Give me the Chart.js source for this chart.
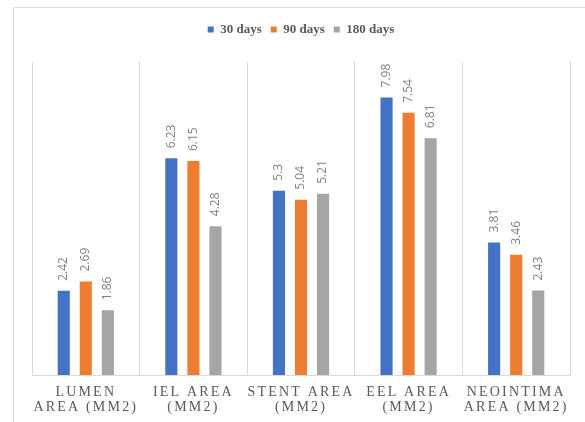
<!DOCTYPE html>
<html>
<head>
<meta charset="utf-8">
<script src="https://cdn.jsdelivr.net/npm/chart.js@4.4.1/dist/chart.umd.min.js"></script>
<style>
  html, body { margin: 0; padding: 0; background: #fff; }
  canvas { display: block; }
</style>
</head>
<body>
<canvas id="areaChart" width="585" height="422"></canvas>
<script>
// categories (two lines each)
const categories = [
    ['LUMEN', 'AREA (MM2)'],
    ['IEL AREA', '(MM2)'],
    ['STENT AREA', '(MM2)'],
    ['EEL AREA', '(MM2)'],
    ['NEOINTIMA', 'AREA (MM2)']
];
const days30 = [2.42, 6.23, 5.3, 7.98, 3.81];
const days90 = [2.69, 6.15, 5.04, 7.54, 3.46];
const days180 = [1.86, 4.28, 5.21, 6.81, 2.43];
const seriesNames = ['30 days', '90 days', '180 days'];
const seriesColors = ['#4472C4', '#ED7D31', '#A5A5A5'];

// outer frame + white background
const framePlugin = {
    id: 'frame',
    beforeDraw(chart) {
        const ctx = chart.ctx;
        ctx.save();
        ctx.fillStyle = '#fff';
        ctx.fillRect(0, 0, chart.width, chart.height);
        ctx.strokeStyle = '#d9d9d9';
        ctx.lineWidth = 1;
        ctx.beginPath();
        ctx.moveTo(13.5, chart.height);
        ctx.lineTo(13.5, 7.5);
        ctx.lineTo(chart.width, 7.5);
        ctx.stroke();
        ctx.restore();
    }
};

// make room between legend and plot
const legendGap = {
    id: 'legendGap',
    beforeInit(chart) {
        const origFit = chart.legend.fit;
        chart.legend.fit = function () {
            origFit.call(this);
            this.height += 16;
        };
    }
};

// rotated value labels above bars
const valueLabels = {
    id: 'valueLabels',
    afterDatasetsDraw(chart) {
        const ctx = chart.ctx;
        ctx.save();
        ctx.font = '12px "Open Sans", sans-serif';
        ctx.fillStyle = '#808080';
        ctx.textAlign = 'left';
        ctx.textBaseline = 'middle';
        chart.data.datasets.forEach((ds, di) => {
            chart.getDatasetMeta(di).data.forEach((bar, i) => {
                ctx.save();
                ctx.translate(bar.x, bar.y - 10);
                ctx.rotate(-Math.PI / 2);
                ctx.fillText(String(ds.data[i]), 0, 0);
                ctx.restore();
            });
        });
        ctx.restore();
    }
};

// spaced serif category labels under the axis
const categoryLabels = {
    id: 'categoryLabels',
    afterDraw(chart) {
        const ctx = chart.ctx;
        const xScale = chart.scales.x;
        ctx.save();
        ctx.font = '14px "Liberation Serif", serif';
        ctx.fillStyle = '#595959';
        ctx.textAlign = 'center';
        ctx.textBaseline = 'middle';
        ctx.letterSpacing = '2.2px';
        categories.forEach((lines, i) => {
            const x = xScale.getPixelForValue(i);
            lines.forEach((line, j) => {
                ctx.fillText(line, x, 392 + j * 15);
            });
        });
        ctx.restore();
    }
};

const ctx = document.getElementById('areaChart').getContext('2d');
new Chart(ctx, {
    type: 'bar',
    data: {
        labels: categories.map(c => c.join(' ')),
        datasets: [days30, days90, days180].map((values, k) => ({
            label: seriesNames[k],
            data: values,
            backgroundColor: seriesColors[k],
            categoryPercentage: 0.615,
            barPercentage: 0.55
        }))
    },
    options: {
        responsive: false,
        animation: false,
        layout: {
            padding: { left: 32, right: 15, top: 14, bottom: 47 }
        },
        scales: {
            x: {
                grid: { color: '#d9d9d9', offset: true, drawTicks: false },
                border: { color: '#d9d9d9' },
                ticks: { display: false }
            },
            y: {
                display: false,
                min: 0,
                max: 9
            }
        },
        plugins: {
            legend: {
                position: 'top',
                labels: {
                    boxWidth: 6,
                    boxHeight: 6,
                    padding: 9,
                    color: '#595959',
                    font: { family: '"Liberation Serif", serif', size: 13, weight: 'bold' }
                }
            },
            tooltip: { enabled: false }
        }
    },
    plugins: [framePlugin, legendGap, valueLabels, categoryLabels]
});
</script>
</body>
</html>
